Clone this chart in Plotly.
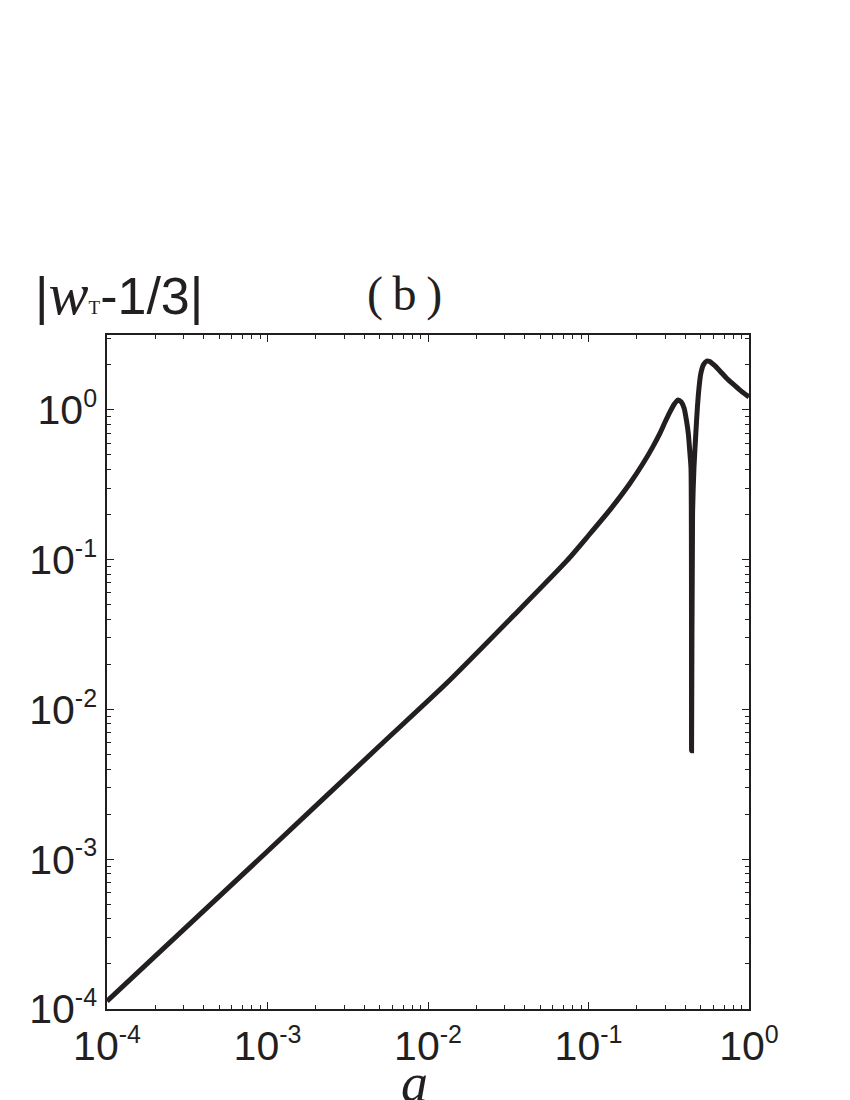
import plotly.graph_objects as go

# values (a, |w_T - 1/3|)
a_vals = [1e-4, 1e-3, 5.0e-3, 1.31e-2, 3.39e-2, 7.34e-2, 1.00e-1, 1.36e-1,
          1.80e-1, 2.19e-1, 2.50e-1, 2.79e-1, 3.00e-1, 3.22e-1, 3.42e-1,
          3.61e-1, 3.78e-1, 3.94e-1, 4.07e-1, 4.19e-1, 4.28e-1, 4.35e-1,
          4.387e-1, 4.45e-1, 4.54e-1, 4.66e-1, 4.77e-1, 4.88e-1, 5.00e-1,
          5.20e-1, 5.45e-1, 5.70e-1, 6.10e-1, 6.59e-1, 7.20e-1, 7.94e-1,
          8.90e-1, 1.0]
w_vals = [1.13e-4, 1.13e-3, 5.72e-3, 1.50e-2, 4.20e-2, 9.85e-2, 1.45e-1, 2.15e-1,
          3.20e-1, 4.40e-1, 5.60e-1, 7.00e-1, 8.30e-1, 9.70e-1, 1.09,
          1.165, 1.13, 1.03, 0.86, 0.69, 0.52, 0.41,
          0.0053, 0.20, 0.41, 0.69, 1.04, 1.40, 1.73,
          2.00, 2.12, 2.10, 1.98, 1.82, 1.64, 1.49,
          1.34, 1.22]

exponents = ["-4", "-3", "-2", "-1", "0"]
x_tickvals = [1e-4, 1e-3, 1e-2, 1e-1, 1e0]
y_tickvals = [1e-4, 1e-3, 1e-2, 1e-1, 1e0]
SUP = '10<sup><span style="font-size:25px">{}</span></sup>'
x_ticktext = [SUP.format(e) for e in exponents]
y_ticktext = [SUP.format(e) for e in exponents]
decades = [1e-4, 1e-3, 1e-2, 1e-1, 1e0]
mantissas = [2, 3, 4, 5, 6, 7, 8, 9]
minor_vals = [m * d for d in decades for m in mantissas]

INK = "#231f20"
TICK_FONT = "Liberation Sans, Arial, sans-serif"

fig = go.Figure()
fig.add_trace(go.Scatter(x=a_vals, y=w_vals, mode="lines",
                         line=dict(color=INK, width=5, shape="spline", smoothing=0.6),
                         showlegend=False, hoverinfo="skip"))

axis_common = dict(
    type="log", showline=True, linecolor=INK, linewidth=1.5, mirror="allticks",
    ticks="inside", ticklen=7, tickwidth=1.3, tickcolor=INK,
    showgrid=False, zeroline=False, automargin=False,
    tickfont=dict(family=TICK_FONT, size=41, color=INK),
    minor=dict(ticks="inside", ticklen=4, tickwidth=1.1, tickcolor=INK,
               showgrid=False, tickvals=minor_vals),
)

fig.update_xaxes(range=[-4, 0], tickvals=x_tickvals, ticktext=x_ticktext, **axis_common)
fig.update_yaxes(range=[-4, 0.5], tickvals=y_tickvals, ticktext=y_ticktext, **axis_common)

# page body adds an 8px offset, so the margins are shifted by 8px
fig.update_layout(
    width=850, height=1100,
    margin=dict(l=99, r=109, t=327, b=99, autoexpand=False),
    paper_bgcolor="white", plot_bgcolor="white",
    font=dict(family="Liberation Sans, Arial, sans-serif", color=INK),
)

# helpers: target page pixel -> paper coords (plot area 107..749 x, 335..1009 y)
def px(x):
    return (x - 107) / 642

def py(y):
    return (1009 - y) / 674

serif = "Liberation Serif, Times New Roman, serif"
fig.add_annotation(
    xref="paper", yref="paper", x=px(33), y=py(259),
    xanchor="left", yanchor="top", showarrow=False,
    text=('|<span style="font-family:Liberation Serif;font-style:italic;font-size:60px">w</span>'
          '<span style="font-family:Liberation Serif;font-size:19px">T</span>-1/3|'),
    font=dict(family="Liberation Sans, Arial, sans-serif", size=52, color=INK),
)
fig.add_annotation(
    xref="paper", yref="paper", x=px(404), y=py(265),
    xanchor="center", yanchor="top", showarrow=False,
    text="(\u2009b\u2009)",
    font=dict(family=serif, size=48, color=INK),
)
fig.add_annotation(
    xref="paper", yref="paper", x=px(414), y=py(1083),
    xanchor="center", yanchor="middle", showarrow=False,
    text="<i>a</i>",
    font=dict(family=serif, size=54, color=INK),
)

fig.write_html("out.html")
